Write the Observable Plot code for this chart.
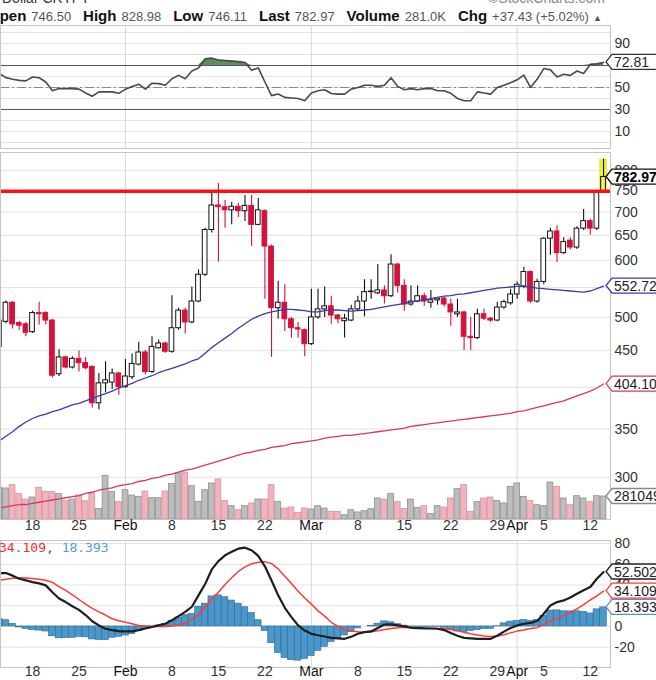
<!DOCTYPE html>
<html><head><meta charset="utf-8">
<script src="https://cdn.jsdelivr.net/npm/d3@7"></script>
<script src="https://cdn.jsdelivr.net/npm/@observablehq/plot@0.6"></script>
<style>
html,body{margin:0;padding:0;background:#fff;}
#wrap{position:relative;width:656px;height:680px;overflow:hidden;font-family:"Liberation Sans",Arial,sans-serif;background:#fff;}
.layer{position:absolute;left:0;}
.hdr{position:absolute;white-space:nowrap;}
.hdr b{font-size:15px;color:#111;}
.hdr span.v{font-size:13px;color:#555;margin-left:5px;margin-right:12px;}
</style></head><body><div id="wrap"></div>
<script>
// ---------------- DATA ----------------
const startDay = "2021-01-13";
const endDayExclusive = "2021-04-15";
const opens  = [455,493,524,491,489,477,507,507,495,417, 440,426,438,432,427,380,405,406,418,400,
                413,430,447,420,453,460,448,483,511,492, 526,573,661,715,711,704,712,702,714,672,
                702,627,515,524,497,483,480,459,500,513, 518,503,494,495,513,526,542,540,545,535,
                592,553,521,526,535,524,528,531,521,505, 508,470,468,505,498,495,516,523,538,552,
                578,526,560,643,658,614,639,625,664,680, 664,746.50];
const highs  = [540,527,526,494,492,510,525,509,497,451, 442,441,449,440,428,418,434,424,419,437,
                445,462,450,470,465,462,536,515,515,551, 582,665,744,767,727,722,720,738,738,731,
                705,630,561,555,500,492,482,547,547,551, 535,505,505,520,535,564,564,592,553,611,
                594,564,553,553,540,545,533,533,530,530, 510,500,513,513,500,525,528,547,560,587,
                580,565,645,665,670,645,645,668,706,684, 750,828.98];
const lows   = [449,490,482,480,470,475,488,488,412,414, 424,424,420,423,374,372,393,397,390,399,
                410,428,416,418,452,446,446,480,474,490, 524,570,655,597,665,672,688,679,627,670,
                530,440,497,478,468,468,441,457,497,500, 489,490,468,493,511,501,530,538,522,533,
                540,510,518,524,518,515,520,517,486,500, 450,450,466,495,492,493,513,520,530,548,
                523,523,555,610,596,612,620,621,660,650, 660,746.11];
const closes = [495,524,489,487,476,507,505,495,415,440, 426,438,432,425,380,405,409,418,400,414,
                431,447,420,455,460,448,483,511,492,526, 573,661,715,711,704,712,702,714,672,704,
                627,515,524,497,483,481,459,500,513,518, 503,497,498,513,526,542,543,545,535,592,
                553,521,526,535,526,528,531,521,508,508, 470,468,505,498,495,516,525,538,555,578,
                526,560,643,658,614,636,625,664,680,664, 745.54,782.97];
const volumesK = [387,379,420,310,244,269,387,338,338,310, 228,244,293,224,326,130,534,338,212,358,
                  293,277,342,261,261,342,436,562,574,407, 216,358,440,489,224,163,114,163,196,244,
                  244,420,216,134,147,81,134,122,163,134, 94,94,53,114,86,102,126,257,244,310,
                  212,130,244,143,163,65,163,147,257,371, 420,94,212,257,269,228,196,399,440,277,
                  228,175,163,452,399,257,175,285,257,212, 285,281.049];
const sma50  = [337,342,347,353,358,362,365,367,370,372, 375,378,380,383,386,389,392,395,399,402,
                405,409,412,415,419,422,425,428,431,435, 438,446,454,461,468,475,483,490,497,502,
                506,509,511,513,513,512,511,509,509,511, 512,512,511,510,511,512,513,515,517,519,
                521,523,525,527,529,531,533,535,536,538, 539,541,543,545,547,549,550,551,552,552,
                551,549,548,547,546,545,544,543,542,544, 548,552.72];
const sma200 = [272,273,274,275,275,276,277,278,279,280, 281,282,283,285,286,288,289,290,292,293,
                294,296,297,299,300,302,303,305,307,308, 310,312,314,316,318,320,322,324,325,327,
                328,330,331,332,334,335,336,337,338,340, 341,342,343,343,344,345,346,347,348,349,
                350,351,353,354,355,356,357,358,359,360, 361,362,363,364,365,366,367,368,370,371,
                373,375,377,379,381,383,386,389,392,395, 399,404.10];
const rsi14  = [62.7,59,57.5,56.5,56,59.5,58.9,55,47,49, 49,49,48.5,45,42,46,46,46,44.7,48.5,
                51,53,48.5,53.9,53.5,52,58,61,58,65, 67.8,76,76.7,75,74.6,74,73.5,72.8,65.7,67.8,
                55,42.6,44,41,40.5,40,38,45,47,48, 44.5,44,44,48.5,50,52,52,51,52,58.9,
                51,48,49,48,49,49,47,47,44.7,40, 38,38,46,45,44,50,52,54.4,57,61.3,
                50,57.4,67.2,66,59.5,62,61,65,62.7,71, 71.5,72.81];
const macdLine = [51.5,51.5,49,46,44.5,42.8,41.5,39.6,33,27, 23.5,19.5,16,11,5,1,-2.2,-3.5,-4.5,-4.8,
                  -4.8,-3.5,-2,-0.5,1,2.6,6,10,14,19, 30,41,55,63,68.6,72,75,76,73.5,68,
                  58,44.4,30,18,9,1,-4,-7.1,-8.5,-9.7, -11,-11.5,-11.9,-10,-7.1,-5.5,-4.8,-1.5,1.9,2,
                  1,0,-1.3,-1.6,-1.9,-2,-2.2,-3.5,-6.4,-9, -11,-11.5,-11.9,-11.9,-11.9,-9,-5,-1.5,1,2.6,
                  3.5,5.2,12.3,20.3,23.5,25.1,28,31.6,35,38, 46,52.502];
const signalLine = [44.4,45.5,46.5,47,46.8,46.3,45.5,44.5,42.5,38.5, 34.8,30.5,26,21.5,17.5,14,11,7.4,5.5,4,
                    2.5,1,0.5,0,0,0,0.5,1.5,3.2,7, 11,19,26,33,40.4,47,53,57.5,60.5,62,
                    62.5,60.6,55.5,48.5,41.5,34,27.5,21.5,15,10, 4,0,-3.2,-4.5,-5.2,-5.5,-5.2,-4.2,-3,-2,
                    -1.2,-0.8,-1,-1.2,-1.5,-1.7,-1.9,-2.2,-3,-4.2, -5.5,-7,-8.3,-9.3,-9.6,-9.2,-8,-6.2,-4.5,-3.5,
                    -2,-1.2,2,5,8,10.5,13.5,17,21,25.5, 29.5,34.109];
const histogram = [7.1,6,2.5,-1,-2.3,-3.5,-4,-4.9,-9.5,-11.5, -11.3,-11,-10,-10.5,-12.5,-13,-13.2,-10.9,-10,-8.8,
                   -7.3,-4.5,-2.5,-0.5,1,2.6,5.5,8.5,10.8,12, 19,22,29,30,28.2,25,22,18.5,13,6,
                   -4.5,-16.2,-25.5,-30.5,-32.5,-33,-31.5,-28.6,-23.5,-19.7, -15,-11.5,-8.7,-5.5,-1.9,0,0.4,2.7,4.9,4,
                   2.2,0.8,-0.3,-0.4,-0.4,-0.3,-0.3,-1.3,-3.4,-4.8, -5.5,-4.5,-3.6,-2.6,-2.3,0.2,3,4.7,5.5,6.1,
                   5.5,6.4,10.3,15.3,15.5,14.6,14.5,14.6,14,12.5, 16.5,18.393];
const resistanceLevel = 748;
const priceGrid = [300,350,400,450,500,550,600,650,700,750,800];
const priceTicks = [300,350,450,500,600,650,700,750,800];   // 400 and 550 sit under value tags
const rsiTicks = [90,50,30,10];
const rsiGrid = [0,10,20,30,40,50,60,70,80,90,100];
const macdGrid = [80,60,40,20,0,-20];
const macdTicks = [80,60,40,0,-20];                          // 20 sits under a value tag
const monthStarts = ["2021-02-01","2021-03-01","2021-04-01"];
const tickDates  = ["2021-01-18","2021-01-25","2021-02-01","2021-02-08","2021-02-15","2021-02-22","2021-03-01",
                    "2021-03-08","2021-03-15","2021-03-22","2021-03-29","2021-04-01","2021-04-05","2021-04-12"];
const tickLabels = ["18","25","Feb","8","15","22","Mar","8","15","22","29","Apr","5","12"];
const monthLabels = ["Feb","Mar","Apr"];

// ---------------- BUILD ----------------
const dates = d3.utcDay.range(new Date(startDay), new Date(endDayExclusive));
const rows = dates.map((date, i) => ({
  date, open: opens[i], high: highs[i], low: lows[i], close: closes[i],
  vol: volumesK[i] * 1000, ma50: sma50[i], ma200: sma200[i], rsi: rsi14[i],
  macd: macdLine[i], signal: signalLine[i], hist: histogram[i], last: i === dates.length - 1
}));
const last = rows[rows.length - 1];
const HOUR = 36e5, DAY = 864e5;
const t0 = +dates[0];
const xScale = {type: "utc", domain: [new Date(t0 + 0.18 * DAY), new Date(t0 + 92.05 * DAY)], axis: null};
const monthDates = monthStarts.map(s => new Date(s));
const tickRows = tickDates.map((s, i) => ({date: new Date(s), label: tickLabels[i]}));
const FONT = '"Liberation Sans", Arial, sans-serif';
const W = 656, MR = 46;
const up = d => d.close >= d.open;
const RED = "#d3123c";

function tag(value, label, stroke, opts = {}) {
  return function(index, scales, values, dims) {
    const y = scales.y(value);
    const x0 = dims.width - dims.marginRight - 4;
    const h = 15;
    const g = d3.create("svg:g");
    g.append("path")
      .attr("d", `M${x0},${y} L${x0 + 6},${y - h / 2} L${x0 + 70},${y - h / 2} L${x0 + 70},${y + h / 2} L${x0 + 6},${y + h / 2} Z`)
      .attr("fill", "#fff").attr("stroke", stroke).attr("stroke-width", 1.3);
    g.append("text").attr("x", x0 + 8).attr("y", y).attr("dy", "0.36em")
      .attr("text-anchor", "start")
      .attr("font-size", 14).attr("font-family", FONT)
      .attr("font-weight", opts.bold ? "bold" : "normal")
      .attr("fill", opts.color || "#222").attr("stroke", "none").text(label);
    return g.node();
  };
}
function tagLayer(height, mt, mb, yOpts, values, tags) {
  return Plot.plot({
    width: W, height, marginTop: mt, marginBottom: mb, marginLeft: 0, marginRight: MR,
    style: {background: "transparent", overflow: "visible"},
    x: xScale, y: {...yOpts, axis: null},
    marks: [Plot.ruleY(values, {strokeOpacity: 0}), ...tags]
  });
}

const wrap = document.getElementById("wrap");
function place(node, top) { node.classList.add("layer"); node.style.top = top + "px"; wrap.appendChild(node); return node; }

// Header
const h1 = document.createElement("div");
h1.className = "hdr"; h1.style.top = "-10px"; h1.style.left = "2px"; h1.style.fontSize = "14px"; h1.style.color = "#333";
h1.textContent = "Dollar  CRYPT";
wrap.appendChild(h1);
const h1b = document.createElement("div");
h1b.className = "hdr"; h1b.style.top = "-10px"; h1b.style.left = "488px"; h1b.style.fontSize = "14px"; h1b.style.color = "#888";
h1b.textContent = "©StockCharts.com";
wrap.appendChild(h1b);
const h2 = document.createElement("div");
h2.className = "hdr"; h2.style.top = "7px"; h2.style.left = "-12px";
h2.innerHTML = '<b>Open</b><span class="v">746.50</span><b>High</b><span class="v">828.98</span><b>Low</b><span class="v">746.11</span><b>Last</b><span class="v">782.97</span><b>Volume</b><span class="v">281.0K</span><b>Chg</b><span class="v" style="margin-right:4px">+37.43 (+5.02%)</span><span style="font-size:9px;color:#555">▲</span>';
wrap.appendChild(h2);

// RSI panel
const rsiY = {domain: [-5.5, 106.4]};
const rsiPlot = Plot.plot({
  width: W, height: 125, marginTop: 1, marginBottom: 1, marginLeft: 0, marginRight: MR,
  style: {background: "transparent", fontFamily: FONT, fontSize: "14px", color: "#333", overflow: "visible"},
  x: xScale,
  y: {...rsiY, axis: "right", ticks: rsiTicks, tickSize: 0, tickPadding: 4, tickFormat: d => String(d), label: null},
  marks: [
    Plot.ruleY(rsiGrid, {stroke: "#e2e2e2"}),
    Plot.ruleX(monthDates, {stroke: "#d9d9d9"}),
    Plot.ruleY([70, 30], {stroke: "#555", strokeWidth: 1.2}),
    Plot.ruleY([50], {stroke: "#888", strokeDasharray: "9,3,2,3"}),
    Plot.areaY(rows, {x: "date", y1: 70, y2: d => Math.max(70, d.rsi), fill: "#5f8c5f"}),
    Plot.line(rows, {x: "date", y: "rsi", stroke: "#4a4a4a", strokeWidth: 1.6}),
    Plot.frame({stroke: "#c4c4c4"})
  ]
});
place(rsiPlot, 24);
place(tagLayer(125, 1, 1, rsiY, [last.rsi], [tag(last.rsi, "72.81", "#333")]), 24);

// Price panel: grid layer, volume layer, price layer
const priceY = {type: "log", domain: [262.15, 846.8]};
const gridPlot = Plot.plot({
  width: W, height: 389, marginTop: 2, marginBottom: 20, marginLeft: 0, marginRight: MR,
  style: {background: "#fff"},
  x: xScale, y: {...priceY, axis: null},
  marks: [
    Plot.ruleY(priceGrid, {stroke: "#e2e2e2"}),
    Plot.ruleX(monthDates, {stroke: "#d9d9d9"})
  ]
});
place(gridPlot, 150);

const volY = {domain: [0, 4.4845e6]};
const volPlot = Plot.plot({
  width: W, height: 389, marginTop: 2, marginBottom: 20, marginLeft: 0, marginRight: MR,
  style: {background: "transparent"},
  x: xScale, y: {...volY, axis: null},
  marks: [
    Plot.rect(rows, {x1: d => new Date(+d.date - 10.5 * HOUR), x2: d => new Date(+d.date + 10.5 * HOUR), y1: 0, y2: "vol",
      fill: d => up(d) ? "#bdbdbd" : "#f2b3bd", stroke: d => up(d) ? "#8f8f8f" : "#d7939e", strokeWidth: 0.8})
  ]
});
place(volPlot, 150);

const pricePlot = Plot.plot({
  width: W, height: 389, marginTop: 2, marginBottom: 20, marginLeft: 0, marginRight: MR,
  style: {background: "transparent", fontFamily: FONT, fontSize: "14px", color: "#333", overflow: "visible"},
  x: xScale,
  y: {...priceY, axis: "right", ticks: priceTicks, tickSize: 0, tickPadding: 4, tickFormat: d => String(d), label: null},
  marks: [
    Plot.rect([last], {x1: d => new Date(+d.date - 14 * HOUR), x2: d => new Date(+d.date + 14 * HOUR), y1: "low", y2: "high", fill: "#eded3a"}),
    Plot.ruleX(rows, {x: "date", y1: "low", y2: "high", stroke: d => up(d) ? "#111" : RED, strokeWidth: 1.1}),
    Plot.rect(rows, {x1: d => new Date(+d.date - 8.5 * HOUR), x2: d => new Date(+d.date + 8.5 * HOUR), y1: "open", y2: "close",
      fill: d => d.last ? "#f4f46a" : (up(d) ? "#fff" : RED), stroke: d => up(d) ? "#111" : RED, strokeWidth: 1}),
    Plot.line(rows, {x: "date", y: "ma200", stroke: "#d33a62", strokeWidth: 1.3}),
    Plot.line(rows, {x: "date", y: "ma50", stroke: "#3b3bab", strokeWidth: 1.3}),
    Plot.ruleY([resistanceLevel], {stroke: "#ff1010", strokeWidth: 3.5}),
    Plot.frame({stroke: "#c4c4c4"}),
    Plot.text(tickRows, {x: "date", text: "label", frameAnchor: "bottom", dy: 10,
      fontWeight: d => monthLabels.includes(d.label) ? "bold" : "normal", fill: d => monthLabels.includes(d.label) ? "#111" : "#333"})
  ]
});
place(pricePlot, 150);
place(tagLayer(389, 2, 20, volY, [last.vol], [tag(last.vol, "281049", "#888")]), 150);
place(tagLayer(389, 2, 20, priceY, [last.ma200, last.close], [
  tag(last.ma200, "404.10", "#d33a62"),
  tag(last.ma50, "552.72", "#3b3bab"),
  tag(last.close, "782.97", "#111", {bold: true, color: "#000"})
]), 150);

// MACD panel
const macdY = {domain: [-39.6, 82.9]};
const macdPlot = Plot.plot({
  width: W, height: 141, marginTop: 1, marginBottom: 13, marginLeft: 0, marginRight: MR,
  style: {background: "transparent", fontFamily: FONT, fontSize: "14px", color: "#333", overflow: "visible"},
  x: xScale,
  y: {...macdY, axis: "right", ticks: macdTicks, tickSize: 0, tickPadding: 4, tickFormat: d => String(d), label: null},
  marks: [
    Plot.ruleY(macdGrid, {stroke: "#e2e2e2"}),
    Plot.ruleX(monthDates, {stroke: "#d9d9d9"}),
    Plot.rect(rows, {x1: d => new Date(+d.date - 12 * HOUR), x2: d => new Date(+d.date + 12 * HOUR), y1: 0, y2: "hist",
      fill: "#4b97c9", stroke: "#2c6a95", strokeWidth: 0.6}),
    Plot.line(rows, {x: "date", y: "signal", stroke: "#ff3a3a", strokeWidth: 1.5}),
    Plot.line(rows, {x: "date", y: "macd", stroke: "#1e1e1e", strokeWidth: 2.2}),
    Plot.frame({stroke: "#c4c4c4"}),
    Plot.text(tickRows, {x: "date", text: "label", frameAnchor: "bottom", dy: 8,
      fontWeight: d => monthLabels.includes(d.label) ? "bold" : "normal", fill: d => monthLabels.includes(d.label) ? "#111" : "#333"})
  ]
});
place(macdPlot, 539);
place(tagLayer(141, 1, 13, macdY, [last.hist, last.macd], [
  tag(last.hist, "18.393", "#5a8fd0"),
  tag(last.signal, "34.109", "#ff3a3a"),
  tag(last.macd, "52.502", "#222")
]), 539);

const mh = document.createElement("div");
mh.className = "hdr"; mh.style.top = "540px"; mh.style.left = "-1px";
mh.style.fontFamily = '"DejaVu Sans Mono", monospace'; mh.style.fontSize = "13px";
mh.innerHTML = '<span style="color:#ff2a2a">34.109</span><span style="color:#555">, </span><span style="color:#4fa0d8">18.393</span>';
wrap.appendChild(mh);
</script></body></html>
